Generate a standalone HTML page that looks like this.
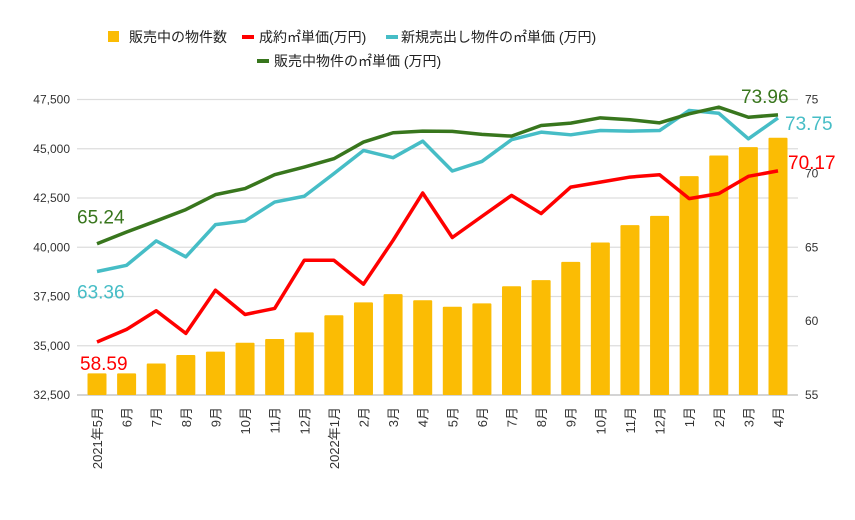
<!DOCTYPE html>
<html><head><meta charset="utf-8"><style>
body{margin:0;background:#fff;}
svg{display:block;font-family:"Liberation Sans","Noto Sans CJK JP",sans-serif;}
</style></head><body>
<svg id="chart" width="855" height="520" viewBox="0 0 855 520" xmlns="http://www.w3.org/2000/svg">
<rect width="855" height="520" fill="#fff"/>
<g font-size="14" fill="#222">
 <g><rect x="108" y="31" width="11" height="11" fill="#fbbc04"/><text x="129" y="42">販売中の物件数</text></g>
 <g><rect x="242" y="35" width="12" height="4" fill="#ff0000"/><text x="259" y="42">成約㎡単価(万円)</text></g>
 <g><rect x="386" y="35" width="12" height="4" fill="#46bdc6"/><text x="401" y="42">新規売出し物件の㎡単価 (万円)</text></g>
 <g><rect x="257" y="59" width="12" height="4" fill="#38761d"/><text x="274" y="66">販売中物件の㎡単価 (万円)</text></g>
</g>
<g id="grid"></g>
<g id="yleft" font-size="12" fill="#333" text-anchor="end"></g>
<g id="yright" font-size="12" fill="#333"></g>
<g id="bars"></g>
<g id="lines"></g>
<g id="xaxis" font-size="13" fill="#333"></g>
<g id="labels" font-size="19"></g>
</svg>
<script>
var categories=["2021年5月","6月","7月","8月","9月","10月","11月","12月","2022年1月","2月","3月","4月","5月","6月","7月","8月","9月","10月","11月","12月","1月","2月","3月","4月"];
var listings=[33600,33600,34100,34530,34700,35150,35340,35680,36550,37200,37620,37310,36980,37150,38020,38330,39260,40240,41120,41590,43610,44660,45080,45560];
var contractPrice=[58.59,59.44,60.70,59.17,62.09,60.45,60.86,64.12,64.12,62.50,65.47,68.67,65.66,67.09,68.51,67.28,69.07,69.41,69.75,69.91,68.29,68.63,69.80,70.17];
var newListingPrice=[63.36,63.78,65.43,64.35,66.53,66.78,68.06,68.45,69.98,71.55,71.06,72.18,70.16,70.81,72.28,72.79,72.61,72.90,72.86,72.90,74.26,74.07,72.34,73.75];
var listingPrice=[65.24,66.03,66.78,67.55,68.56,68.97,69.91,70.43,70.99,72.12,72.75,72.86,72.84,72.64,72.52,73.24,73.40,73.76,73.63,73.42,74.03,74.48,73.80,73.96];
var leftTicks=[32500,35000,37500,40000,42500,45000,47500];
var rightTicks=[55,60,65,70,75];
(function(){
const NS="http://www.w3.org/2000/svg";
const plotTop=99.5,plotBot=395,x0=97,step=(778-97)/23;
const yL=v=>plotBot-(v-32500)/15000*(plotBot-plotTop);
const yR=v=>plotBot-(v-55)/20*(plotBot-plotTop);
const xC=i=>x0+i*step;
function mk(tag,attrs,parent){const e=document.createElementNS(NS,tag);for(const k in attrs)e.setAttribute(k,attrs[k]);parent.appendChild(e);return e;}
const grid=document.getElementById('grid'),yl=document.getElementById('yleft'),yr=document.getElementById('yright');
leftTicks.forEach(t=>{
 const l=mk('line',{x1:77,x2:798,y1:yL(t),y2:yL(t),stroke:t===32500?'#bbb':'#ddd','stroke-width':1.3},grid);
 
 
 const tx=mk('text',{x:70,y:yL(t)+4},yl);tx.textContent=t.toLocaleString('en-US');
 
 
});
rightTicks.forEach(t=>{
 const tx=mk('text',{x:805,y:yR(t)+4},yr);tx.textContent=t;
 
 
});
const bars=document.getElementById('bars');
listings.forEach((v,i)=>{
 const r=mk('rect',{x:xC(i)-9.5,y:yL(v),width:19,height:plotBot-yL(v),fill:'#fbbc04',rx:1},bars);
 
 
});
const lines=document.getElementById('lines');
[[contractPrice,'#ff0000','line-contract-price'],[newListingPrice,'#46bdc6','line-new-listing-price'],[listingPrice,'#38761d','line-listing-price']].forEach(([d,c,n])=>{
 const p=mk('polyline',{points:d.map((v,i)=>xC(i)+','+yR(v)).join(' '),fill:'none',stroke:c,'stroke-width':3.5,'stroke-linejoin':'round'},lines);
 
 
});
const xa=document.getElementById('xaxis');
categories.forEach((c,i)=>{
 const t=mk('text',{transform:`translate(${xC(i)+5},407) rotate(-90)`,'text-anchor':'end'},xa);t.textContent=c;
 
 
});
const lb=document.getElementById('labels');
const n=categories.length-1;
[[listingPrice[0],'#38761d',77,yR(listingPrice[0])-20],[newListingPrice[0],'#46bdc6',77,yR(newListingPrice[0])+27],[contractPrice[0],'#ff0000',80,yR(contractPrice[0])+28],
 [listingPrice[n],'#38761d',741,yR(listingPrice[n])-12],[newListingPrice[n],'#46bdc6',785,yR(newListingPrice[n])+12],[contractPrice[n],'#ff0000',788,yR(contractPrice[n])-2]].forEach(([v,c,x,y])=>{
 const t=mk('text',{x:x,y:y,fill:c},lb);t.textContent=v.toFixed(2);
 
 
});
})();
</script>
</body></html>
